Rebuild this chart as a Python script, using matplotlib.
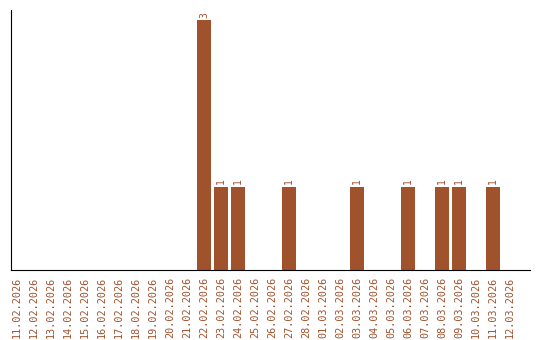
import matplotlib
matplotlib.use("Agg")
import matplotlib.pyplot as plt

dates = ['11.02.2026', '12.02.2026', '13.02.2026', '14.02.2026', '15.02.2026',
         '16.02.2026', '17.02.2026', '18.02.2026', '19.02.2026', '20.02.2026',
         '21.02.2026', '22.02.2026', '23.02.2026', '24.02.2026', '25.02.2026',
         '26.02.2026', '27.02.2026', '28.02.2026', '01.03.2026', '02.03.2026',
         '03.03.2026', '04.03.2026', '05.03.2026', '06.03.2026', '07.03.2026',
         '08.03.2026', '09.03.2026', '10.03.2026', '11.03.2026', '12.03.2026']
counts = [0, 0, 0, 0, 0, 0, 0, 0, 0, 0,
          0, 3, 1, 1, 0, 0, 1, 0, 0, 0,
          1, 0, 0, 1, 0, 1, 1, 0, 1, 0]

color = '#A0522D'
mono = 'DejaVu Sans Mono'

fig = plt.figure(figsize=(5.4, 3.4), dpi=100)
ax = fig.add_axes([11 / 540, 70 / 340, 519 / 540, 260 / 340])

x = list(range(len(dates)))
ax.bar(x, counts, width=0.82, color=color)
for xi, c in zip(x, counts):
    if c > 0:
        ax.text(xi, c + 0.03, str(c), rotation=90, ha='center', va='bottom',
                fontsize=7, family=mono, color=color)

ax.set_xlim(-0.35, 30.18)
ax.set_ylim(0, 3.12)
ax.set_xticks(x)
ax.set_xticklabels(dates, rotation=90, fontsize=7.3, family=mono, color=color)
ax.tick_params(axis='x', length=0, pad=5)
ax.set_yticks([])
ax.spines['top'].set_visible(False)
ax.spines['right'].set_visible(False)

fig.savefig('out.png', dpi=100)
